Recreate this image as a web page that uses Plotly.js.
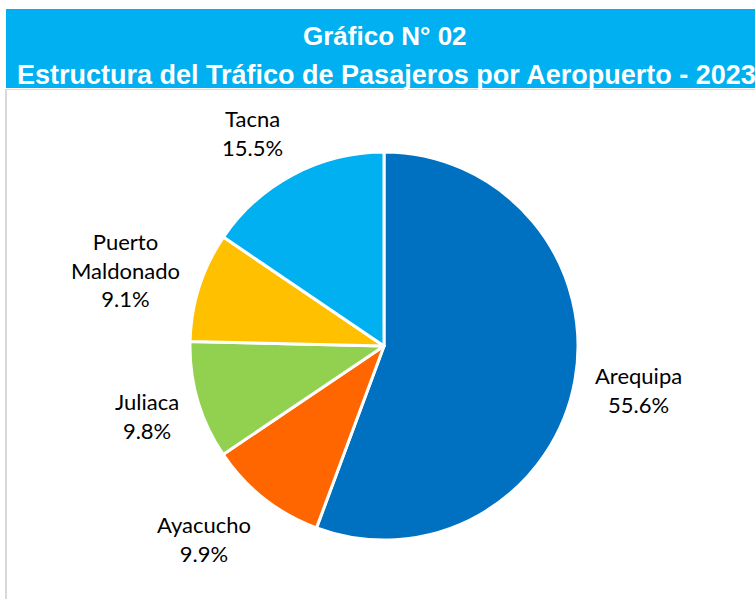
<!DOCTYPE html>
<html>
<head>
<meta charset="utf-8">
<script src="https://cdn.plot.ly/plotly-3.0.1.min.js"></script>
<style>
  html, body { margin: 0; padding: 0; background: #ffffff; }
  #chart { width: 755px; height: 599px; }
</style>
</head>
<body>
<div id="chart"></div>
<script>
const airports = ["Arequipa", "Ayacucho", "Juliaca", "Puerto<br>Maldonado", "Tacna"];
const shares = [55.6, 9.9, 9.8, 9.1, 15.5];
const sliceColors = ["#0070C0", "#FF6600", "#92D050", "#FFC000", "#00B0F0"];
const titleLines = ["Gráfico N° 02", "Estructura del Tráfico de Pasajeros por Aeropuerto - 2023"];

const W = 755, H = 599;
const cx = 384, cy = 346, R = 194;
const px2x = p => p / W;
const py2y = p => 1 - p / H;

const pieTrace = {
  type: "pie",
  values: shares,
  labels: airports,
  marker: { colors: sliceColors, line: { color: "#ffffff", width: 3 } },
  sort: false,
  direction: "clockwise",
  rotation: 0,
  textinfo: "none",
  hoverinfo: "none",
  showlegend: false,
  domain: { x: [px2x(cx - R), px2x(cx + R)], y: [py2y(cy + R), py2y(cy - R)] }
};

// labels placed outside each slice, computed from the data
const total = shares.reduce((a, b) => a + b, 0);
const annotations = [];
let cum = 0;
shares.forEach((v, i) => {
  const mid = (cum + v / 2) / total * 2 * Math.PI;
  cum += v;
  const sx = Math.sin(mid), sy = -Math.cos(mid);
  const xa = sx > 0.3 ? "left" : (sx < -0.3 ? "right" : "center");
  const ya = sy > 0.5 ? "top" : (sy < -0.5 ? "bottom" : "middle");
  const rx = R + 18;
  const ry = R + 18 + (ya === "middle" ? 37 : -5);
  const px = cx + rx * sx, py = cy + ry * sy;
  annotations.push({
    xref: "paper", yref: "paper",
    x: px2x(px), y: py2y(py),
    xanchor: xa, yanchor: ya,
    text: airports[i] + "<br>" + v.toFixed(1) + "%",
    showarrow: false,
    align: "center",
    font: { family: "Lato, 'Noto Sans', sans-serif", size: 22, color: "#000000" }
  });
});

annotations.push({
  xref: "paper", yref: "paper", x: px2x(385), y: py2y(36),
  xanchor: "center", yanchor: "middle", showarrow: false,
  text: "<b>" + titleLines[0] + "</b>",
  font: { family: "'Liberation Sans', Arial, sans-serif", size: 26, color: "#ffffff" }
});
annotations.push({
  xref: "paper", yref: "paper", x: px2x(386), y: py2y(75),
  xanchor: "center", yanchor: "middle", showarrow: false,
  text: "<b>" + titleLines[1] + "</b>",
  font: { family: "'Liberation Sans', Arial, sans-serif", size: 27, color: "#ffffff" }
});

const layout = {
  width: W, height: H,
  margin: { l: 0, r: 0, t: 0, b: 0 },
  paper_bgcolor: "#ffffff",
  plot_bgcolor: "#ffffff",
  shapes: [
    { type: "rect", xref: "paper", yref: "paper", layer: "below",
      x0: px2x(6), x1: 1, y0: py2y(88), y1: py2y(9),
      fillcolor: "#00B0F0", line: { width: 0 } },
    { type: "line", xref: "paper", yref: "paper", layer: "below",
      x0: px2x(6), x1: px2x(6), y0: py2y(89), y1: 0,
      line: { color: "#D9D9D9", width: 2 } },
    { type: "line", xref: "paper", yref: "paper", layer: "below",
      x0: px2x(6), x1: 1, y0: py2y(89.5), y1: py2y(89.5),
      line: { color: "#D9D9D9", width: 1 } }
  ],
  annotations: annotations
};

Plotly.newPlot("chart", [pieTrace], layout, { displayModeBar: false, staticPlot: true });
</script>
</body>
</html>
